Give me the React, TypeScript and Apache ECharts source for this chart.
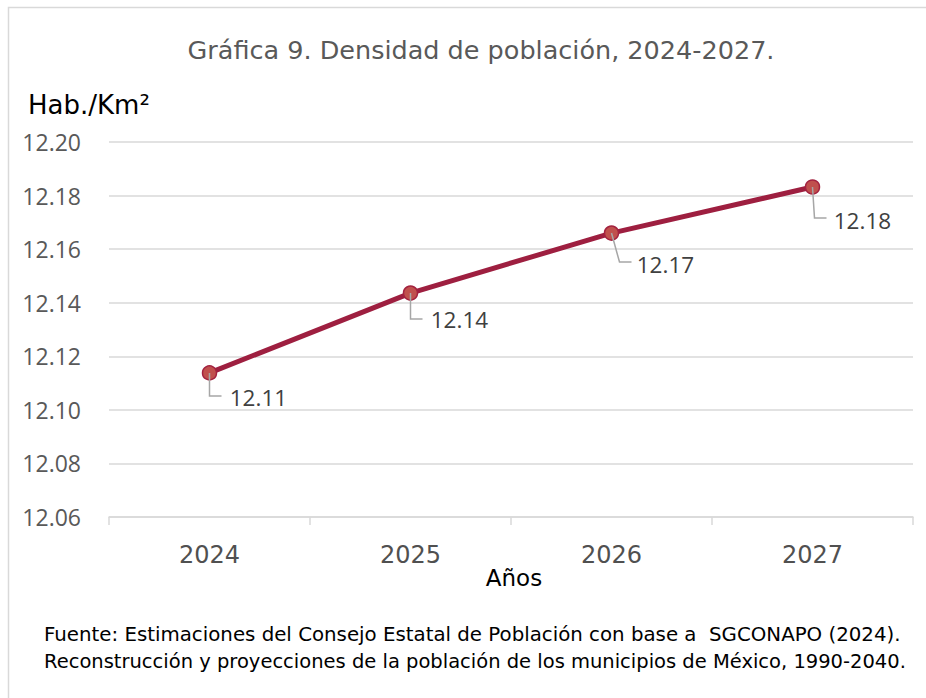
import React, { useEffect, useRef } from "react";
import * as echarts from "echarts";

const years = ["2024", "2025", "2026", "2027"];
const density = [12.1138, 12.1436, 12.166, 12.1832];
const yMin = 12.06;
const yMax = 12.2;
const yStep = 0.02;

// label placement (pixels relative to each point): [labelDx, labelDy, leaderBottomDx, leaderDy, leaderEndDx]
const labelPlacement = [
  [21, 25, 0, 23, 12],
  [21, 27, 0, 26, 12],
  [26, 32, 8, 29, 20],
  [22, 34, 2, 31, 14],
];

const titleText = "Gráfica 9. Densidad de población, 2024-2027.";
const yAxisTitle = "Hab./Km²";
const xAxisTitle = "Años";
const sourceLines = [
  "Fuente: Estimaciones del Consejo Estatal de Población con base a  SGCONAPO (2024).",
  "Reconstrucción y proyecciones de la población de los municipios de México, 1990-2040.",
];

const GEO = "'DejaVu Sans', sans-serif";
const NUM = "'Open Sans', 'Noto Sans', sans-serif";

export default function App() {
  const ref = useRef<HTMLDivElement>(null);
  useEffect(() => {
    document.body.style.margin = "0";
    if (!ref.current) return;
    const chart = echarts.init(ref.current, null, { renderer: "svg" });
    chart.setOption({
      animation: false,
      backgroundColor: "#ffffff",
      title: {
        text: titleText,
        left: 476,
        textAlign: "center",
        top: 32,
        textStyle: { fontFamily: GEO, fontSize: 25.5, fontWeight: "normal", color: "#595959" },
      },
      grid: { left: 109, right: 13, top: 142, bottom: 181, containLabel: false },
      xAxis: {
        type: "category",
        data: years,
        boundaryGap: true,
        axisLine: { show: true, lineStyle: { color: "#d9d9d9", width: 1.5 } },
        axisTick: { show: true, length: 8, lineStyle: { color: "#d9d9d9", width: 1.5 } },
        axisLabel: { margin: 26, fontSize: 24, color: "#505050", fontFamily: GEO },
        splitLine: { show: false },
      },
      yAxis: {
        type: "value",
        min: yMin,
        max: yMax,
        interval: yStep,
        axisLine: { show: false },
        axisTick: { show: false },
        axisLabel: {
          margin: 28,
          fontSize: 23,
          color: "#595959",
          fontFamily: NUM,
          formatter: (v: number) => v.toFixed(2),
        },
        splitLine: { show: true, lineStyle: { color: "#d9d9d9", width: 1.5 } },
      },
      series: [
        {
          type: "line",
          data: density.map((v, i) => ({
            value: v,
            label: {
              position: [labelPlacement[i][0] + 7, labelPlacement[i][1] + 7],
            },
          })),
          z: 2,
          lineStyle: { color: "#9e1f40", width: 5 },
          symbol: "circle",
          symbolSize: 14,
          itemStyle: { color: "#c0504d", borderColor: "#a3223f", borderWidth: 1.5 },
          label: {
            show: true,
            align: "left",
            verticalAlign: "middle",
            fontSize: 22.5,
            color: "#404040",
            fontFamily: NUM,
            formatter: (p: any) => Number(p.value).toFixed(2),
          },
        },
        {
          type: "custom",
          z: 3,
          silent: true,
          data: density.map((v, i) => [i, v]),
          renderItem: (params: any, api: any) => {
            const pt = api.coord([api.value(0), api.value(1)]);
            const x = pt[0];
            const y = pt[1];
            const lp = labelPlacement[params.dataIndex];
            return {
              type: "polyline",
              shape: { points: [[x, y], [x + lp[2], y + lp[3]], [x + lp[4], y + lp[3]]] },
              style: { stroke: "#a6a6a6", lineWidth: 1.5, fill: "none" },
            };
          },
        },
      ],
      graphic: [
        {
          type: "polyline",
          shape: { points: [[8.5, 720], [8.5, 7.5], [940, 7.5]] },
          style: { stroke: "#d9d9d9", lineWidth: 1.5, fill: "none" },
        },
        {
          type: "text",
          x: 28,
          y: 105,
          style: {
            text: yAxisTitle,
            fontSize: 26,
            fill: "#000000",
            fontFamily: GEO,
            verticalAlign: "middle",
          },
        },
        {
          type: "text",
          x: 514,
          y: 578,
          style: {
            text: xAxisTitle,
            fontSize: 23,
            fill: "#000000",
            fontFamily: GEO,
            align: "center",
            verticalAlign: "middle",
          },
        },
        {
          type: "text",
          x: 44,
          y: 634,
          style: { text: sourceLines[0], fontSize: 19.8, fill: "#000000", fontFamily: GEO, verticalAlign: "middle" },
        },
        {
          type: "text",
          x: 44,
          y: 661,
          style: { text: sourceLines[1], fontSize: 19.5, fill: "#000000", fontFamily: GEO, verticalAlign: "middle" },
        },
      ],
    });
    return () => chart.dispose();
  }, []);
  return <div ref={ref} style={{ width: 926, height: 698 }} />;
}
